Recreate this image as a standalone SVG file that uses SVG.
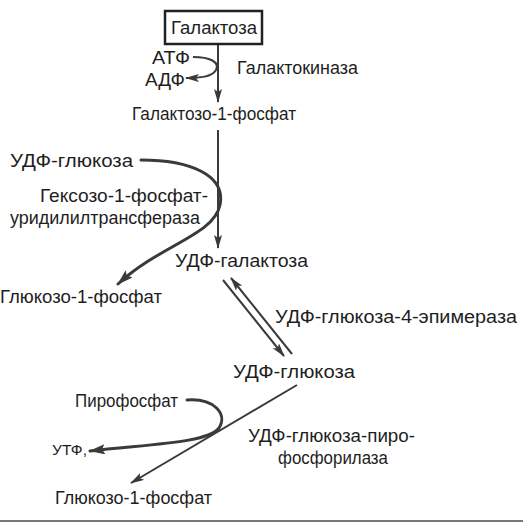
<svg xmlns="http://www.w3.org/2000/svg" width="523" height="522" viewBox="0 0 523 522">
<style>
text{font-family:"Liberation Sans",Arial,sans-serif;font-size:17.5px;fill:#1e1e1e}
.ln{fill:none;stroke:#3a3a3a;stroke-width:2}
.cv{fill:none;stroke:#3a3a3a;stroke-width:3;stroke-linecap:round}
</style>
<defs>
<marker id="ah" viewBox="0 0 14 8" refX="13" refY="4" markerWidth="14" markerHeight="8" markerUnits="userSpaceOnUse" orient="auto">
<path d="M0,0 L14,4 L0,8 L3,4 Z" fill="#3a3a3a"/>
</marker>
<marker id="ah2" viewBox="0 0 16 10" refX="15" refY="5" markerWidth="16" markerHeight="10" markerUnits="userSpaceOnUse" orient="auto">
<path d="M0,0 L16,5 L0,10 L3,5 Z" fill="#3a3a3a"/>
</marker>
</defs>
<rect width="523" height="522" fill="#fff"/>
<g id="connectors">
<line class="ln" x1="218" y1="44" x2="218" y2="102" marker-end="url(#ah)"/>
<path class="ln" d="M193,57 C210,57 220,62 216,70 C212,77 200,78 186,78" marker-end="url(#ah)"/>
<line class="ln" x1="218" y1="130" x2="218" y2="248" marker-end="url(#ah)"/>
<path class="cv" d="M141,160 C190,160 226,175 220,205 C214,235 160,245 118,284" marker-end="url(#ah2)"/>
<line class="ln" x1="223" y1="280" x2="284" y2="356" marker-end="url(#ah)"/>
<line class="ln" x1="292" y1="354" x2="231" y2="278" marker-end="url(#ah)"/>
<line class="ln" x1="297" y1="385" x2="131" y2="483" marker-end="url(#ah)"/>
<path class="cv" d="M187,400 C214,398 228,414 219,428 C208,443 150,444 90,451" marker-end="url(#ah2)"/>
</g>
<g id="galaktoza">
<rect x="165" y="11" width="97" height="33" fill="none" stroke="#222" stroke-width="2.5"/>
<text x="171" y="34" textLength="86" lengthAdjust="spacingAndGlyphs">Галактоза</text>
</g>
<g id="atf"><text x="152" y="64" textLength="38" lengthAdjust="spacingAndGlyphs">АТФ</text></g>
<g id="adf"><text x="145" y="86" textLength="40" lengthAdjust="spacingAndGlyphs">АДФ</text></g>
<g id="galaktokinaza"><text x="237" y="74" textLength="121" lengthAdjust="spacingAndGlyphs">Галактокиназа</text></g>
<g id="galaktozo1f"><text x="132" y="120" textLength="164" lengthAdjust="spacingAndGlyphs">Галактозо-1-фосфат</text></g>
<g id="udfglukoza1"><text x="10" y="167" textLength="123" lengthAdjust="spacingAndGlyphs">УДФ-глюкоза</text></g>
<g id="transferaza"><text x="40" y="202" textLength="168" lengthAdjust="spacingAndGlyphs">Гексозо-1-фосфат-</text><text x="10" y="224" textLength="190" lengthAdjust="spacingAndGlyphs">уридилилтрансфераза</text></g>
<g id="udfgalaktoza"><text x="175" y="267" textLength="133" lengthAdjust="spacingAndGlyphs">УДФ-галактоза</text></g>
<g id="glukozo1f1"><text x="0" y="303" textLength="162" lengthAdjust="spacingAndGlyphs">Глюкозо-1-фосфат</text></g>
<g id="epimeraza"><text x="275" y="323" textLength="242" lengthAdjust="spacingAndGlyphs">УДФ-глюкоза-4-эпимераза</text></g>
<g id="udfglukoza2"><text x="233" y="378" textLength="122" lengthAdjust="spacingAndGlyphs">УДФ-глюкоза</text></g>
<g id="pirofosfat"><text x="75" y="407" textLength="103" lengthAdjust="spacingAndGlyphs">Пирофосфат</text></g>
<g id="utf"><text x="52" y="455" style="font-size:14.5px" textLength="35" lengthAdjust="spacingAndGlyphs">УТФ,</text></g>
<g id="pirofosforilaza"><text x="248" y="442" textLength="167" lengthAdjust="spacingAndGlyphs">УДФ-глюкоза-пиро-</text><text x="278" y="464" textLength="110" lengthAdjust="spacingAndGlyphs">фосфорилаза</text></g>
<g id="glukozo1f2"><text x="55" y="504" textLength="157" lengthAdjust="spacingAndGlyphs">Глюкозо-1-фосфат</text></g>
<line x1="0" y1="521" x2="523" y2="521" stroke="#777" stroke-width="2"/>
</svg>
